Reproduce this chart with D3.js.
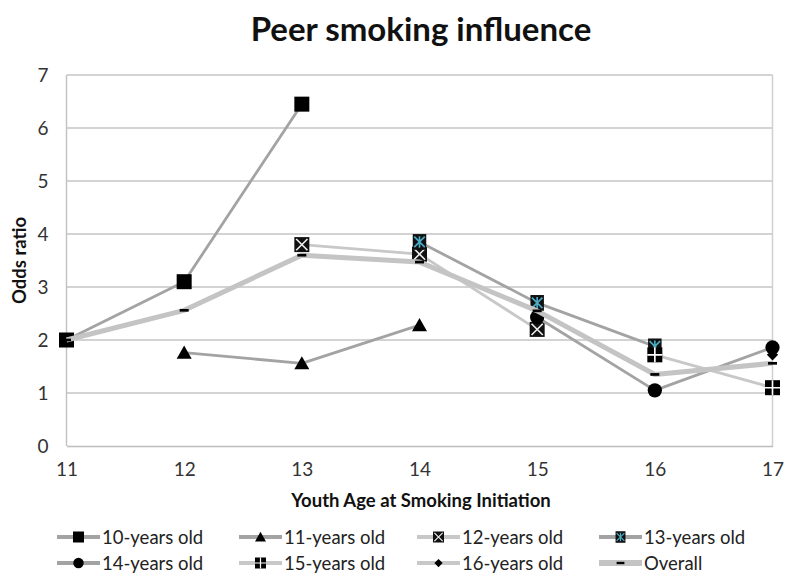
<!DOCTYPE html>
<html><head><meta charset="utf-8">
<script src="https://cdn.jsdelivr.net/npm/d3@7"></script>
<style>body{margin:0;background:#fff}svg{display:block}text{font-family:Lato,"Open Sans",sans-serif}</style>
</head><body><svg id="c" width="795" height="587"></svg>
<script>
const ages = [11, 12, 13, 14, 15, 16, 17];
const yTicks = [0, 1, 2, 3, 4, 5, 6, 7];
const seriesNames = ["10-years old", "11-years old", "12-years old", "13-years old", "14-years old", "15-years old", "16-years old", "Overall"];
const s10 = [2.0, 3.1, 6.45, null, null, null, null];
const s11 = [null, 1.76, 1.56, 2.28, null, null, null];
const s12 = [null, null, 3.8, 3.62, 2.2, null, null];
const s13 = [null, null, null, 3.85, 2.7, 1.88, null];
const s14 = [null, null, null, null, 2.43, 1.05, 1.86];
const s15 = [null, null, null, null, null, 1.72, 1.1];
const s16 = [null, null, null, null, null, null, 1.72];
const overall = [2.0, 2.56, 3.6, 3.47, 2.55, 1.35, 1.56];
const allValues = [s10, s11, s12, s13, s14, s15, s16, overall];

const styles = [
  {color: "#a3a3a3", w: 2.8, m: "square"},
  {color: "#a3a3a3", w: 2.8, m: "triangle"},
  {color: "#c8c8c8", w: 2.8, m: "squareX"},
  {color: "#a3a3a3", w: 2.8, m: "squareAst"},
  {color: "#a3a3a3", w: 2.8, m: "circle"},
  {color: "#c8c8c8", w: 2.8, m: "squarePlus"},
  {color: "#c8c8c8", w: 2.8, m: "diamond"},
  {color: "#c4c4c4", w: 5, m: "dash"}
];

const svg = d3.select("#c");
const x = d3.scaleLinear().domain([11, 17]).range([66.5, 772.5]);
const y = d3.scaleLinear().domain([0, 7]).range([446, 75]);

// title
svg.append("text").attr("x", 421).attr("y", 41).attr("text-anchor", "middle")
  .attr("font-size", 33).attr("font-weight", "bold").attr("fill", "#111").text("Peer smoking influence");

// gridlines
svg.append("g").selectAll("line").data(yTicks.filter(d => d > 0)).join("line")
  .attr("x1", x(11)).attr("x2", x(17)).attr("y1", d => y(d)).attr("y2", d => y(d))
  .attr("stroke", "#c4c4c4").attr("stroke-width", 1.5);
// frame lines
svg.append("line").attr("x1", x(11)).attr("x2", x(11)).attr("y1", y(7)).attr("y2", y(0)).attr("stroke", "#c4c4c4").attr("stroke-width", 1.5);
svg.append("line").attr("x1", x(17)).attr("x2", x(17)).attr("y1", y(7)).attr("y2", y(0)).attr("stroke", "#d0d0d0").attr("stroke-width", 1.5);

// axes
const yAxis = d3.axisLeft(y).tickValues(yTicks).tickSize(0).tickPadding(18).tickFormat(d3.format("d"));
const gy = svg.append("g").attr("transform", `translate(${x(11)},0)`).call(yAxis);
gy.select(".domain").remove();
gy.selectAll("text").attr("font-size", 19).attr("fill", "#333").attr("font-family", "Lato");

const xAxis = d3.axisBottom(x).tickValues(ages).tickSize(0).tickPadding(17).tickFormat(d3.format("d"));
const gx = svg.append("g").attr("transform", `translate(0,${y(0)})`).call(xAxis);
gx.select(".domain").attr("stroke", "#bdbdbd").attr("stroke-width", 1.5);
gx.selectAll("text").attr("font-size", 19).attr("fill", "#333").attr("font-family", "Lato");

// axis titles
svg.append("text").attr("transform", `translate(26,${(y(0) + y(7)) / 2}) rotate(-90)`).attr("text-anchor", "middle")
  .attr("font-size", 18.5).attr("font-weight", "bold").attr("fill", "#111").text("Odds ratio");
svg.append("text").attr("x", 421).attr("y", 507).attr("text-anchor", "middle")
  .attr("font-size", 18.5).attr("font-weight", "bold").attr("fill", "#111").text("Youth Age at Smoking Initiation");

function drawMarker(g, type, s) {
  const h = s / 2;
  if (type === "square") {
    g.append("rect").attr("x", -h).attr("y", -h).attr("width", s).attr("height", s).attr("fill", "#000");
  } else if (type === "triangle") {
    g.append("path").attr("d", `M0,${-h * 0.95}L${h},${h * 0.8}L${-h},${h * 0.8}Z`).attr("fill", "#000");
  } else if (type === "squareX") {
    g.append("rect").attr("x", -h).attr("y", -h).attr("width", s).attr("height", s).attr("fill", "#111");
    const k = h * 0.75;
    g.append("path").attr("d", `M${-k},${-k}L${k},${k}M${k},${-k}L${-k},${k}`).attr("stroke", "#eee").attr("stroke-width", s * 0.11);
  } else if (type === "squareAst") {
    g.append("rect").attr("x", -h * 0.9).attr("y", -h * 1.05).attr("width", s * 0.9).attr("height", s * 1.05).attr("fill", "#111");
    const k = h * 0.7;
    g.append("path").attr("d", `M${-k},${-k}L${k},${k}M${k},${-k}L${-k},${k}M0,${-k * 1.1}L0,${k * 1.1}`)
      .attr("stroke", "#4bacc6").attr("stroke-width", s * 0.11);
  } else if (type === "circle") {
    g.append("circle").attr("r", h * 0.95).attr("fill", "#000");
  } else if (type === "squarePlus") {
    g.append("rect").attr("x", -h).attr("y", -h).attr("width", s).attr("height", s).attr("fill", "#000");
    g.append("path").attr("d", `M${-h},0L${h},0M0,${-h}L0,${h}`).attr("stroke", "#fff").attr("stroke-width", s * 0.11);
  } else if (type === "diamond") {
    const k = h * 0.75;
    g.append("path").attr("d", `M0,${-k}L${k},0L0,${k}L${-k},0Z`).attr("fill", "#000");
  } else if (type === "dash") {
    g.append("rect").attr("x", -s * 0.3).attr("y", -s * 0.09).attr("width", s * 0.6).attr("height", s * 0.18).attr("fill", "#000");
  }
}

// series
const line = d3.line().defined(d => d.v != null).x(d => x(d.a)).y(d => y(d.v));
allValues.forEach((vals, i) => {
  const st = styles[i];
  const pts = ages.map((a, j) => ({a, v: vals[j]}));
  const g = svg.append("g");
  g.append("path").datum(pts).attr("d", line).attr("fill", "none")
    .attr("stroke", st.color).attr("stroke-width", st.w).attr("stroke-linejoin", "round");
  g.selectAll("g.m").data(pts.filter(d => d.v != null)).join("g").attr("class", "m")
    .attr("transform", d => `translate(${x(d.a)},${y(d.v)})`)
    .each(function () { drawMarker(d3.select(this), st.m, 15); });
});

// legend
const colX = [57, 239, 417, 599];
const rowY = [537, 563];
seriesNames.forEach((name, i) => {
  const st = styles[i];
  const cx = colX[i % 4], cy = rowY[Math.floor(i / 4)];
  const g = svg.append("g").attr("transform", `translate(${cx},${cy})`);
  g.append("line").attr("x1", 0).attr("x2", 43).attr("y1", 0).attr("y2", 0)
    .attr("stroke", st.color).attr("stroke-width", i === 7 ? 6 : 4);
  const mg = g.append("g").attr("transform", "translate(21.5,0)");
  drawMarker(mg, st.m, i === 7 ? 13 : 11);
  g.append("text").attr("x", 45).attr("y", 6.5).attr("font-size", 18.5).attr("fill", "#222").text(name);
});
</script></body></html>
